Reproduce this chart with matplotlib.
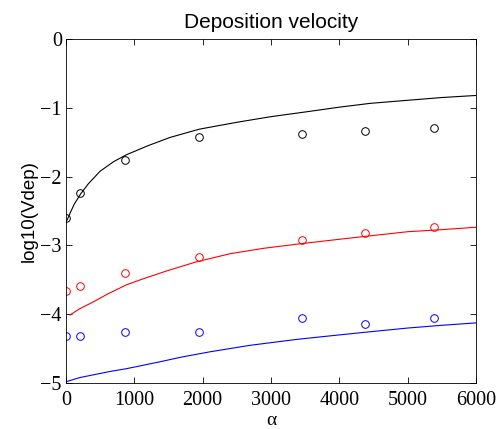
import numpy as np
import matplotlib.pyplot as plt

# measured points (circles)
alpha_pts = [0, 200, 860, 1950, 3450, 4370, 5380]
black_pts = [-2.60, -2.24, -1.76, -1.43, -1.385, -1.33, -1.30]
red_pts = [-3.667, -3.59, -3.406, -3.164, -2.926, -2.825, -2.737]
blue_pts = [-4.32, -4.32, -4.254, -4.254, -4.06, -4.147, -4.06]

# model curves
black_x = [0, 30, 60, 120, 215, 330, 500, 700, 888, 1200, 1522, 1950, 2500,
           2986, 3500, 4000, 4449, 5000, 5500, 6000]
black_y = [-2.66, -2.60, -2.53, -2.40, -2.25, -2.10, -1.92, -1.78, -1.68, -1.55,
           -1.43, -1.31, -1.21, -1.13, -1.06, -0.99, -0.935, -0.89, -0.85, -0.82]
red_x = [59, 200, 400, 600, 888, 1200, 1474, 1900, 2400, 2900, 3473, 4000,
         4449, 5000, 5500, 6000]
red_y = [-4.01, -3.92, -3.82, -3.71, -3.57, -3.46, -3.37, -3.24, -3.12, -3.04,
         -2.97, -2.91, -2.86, -2.80, -2.77, -2.735]
blue_x = [0, 200, 400, 650, 888, 1376, 1700, 2108, 2700, 3376, 3900, 4449,
          5000, 5500, 6000]
blue_y = [-4.98, -4.92, -4.88, -4.83, -4.79, -4.69, -4.62, -4.545, -4.45,
          -4.365, -4.31, -4.254, -4.20, -4.16, -4.125]

fig = plt.figure(figsize=(5, 4.29), dpi=100)
ax = fig.add_axes([0.132, 0.107, 0.82, 0.802])

ax.plot(black_x, black_y, color='k', lw=0.8)
ax.plot(red_x, red_y, color='r', lw=0.8)
ax.plot(blue_x, blue_y, color='b', lw=0.8)
ax.plot(alpha_pts, black_pts, 'o', mfc='none', mec='k', ms=5.5, mew=0.7)
ax.plot(alpha_pts, red_pts, 'o', mfc='none', mec='r', ms=5.5, mew=0.7)
ax.plot(alpha_pts, blue_pts, 'o', mfc='none', mec='b', ms=5.5, mew=0.7)

ax.set_xlim(0, 6000)
ax.set_ylim(-5, 0)
ax.set_xticks(np.arange(0, 6001, 1000))
ax.set_yticks(np.arange(-5, 1, 1))
ax.tick_params(direction='in', top=True, right=True, length=4, width=0.6)
for lab in ax.get_xticklabels() + ax.get_yticklabels():
    lab.set_family('Liberation Serif')
    lab.set_fontsize(14.5)
ax.tick_params(axis='x', pad=6)
ax.tick_params(axis='y', pad=3)
for s in ax.spines.values():
    s.set_linewidth(0.6)

ax.set_title('Deposition velocity', family='Liberation Sans', fontsize=15, pad=8)
ax.set_ylabel('log10(Vdep)', family='Liberation Sans', fontsize=13.5, labelpad=2)
ax.set_xlabel('α', family='Liberation Serif', fontsize=14, labelpad=1)

fig.savefig('out.png', dpi=100)
